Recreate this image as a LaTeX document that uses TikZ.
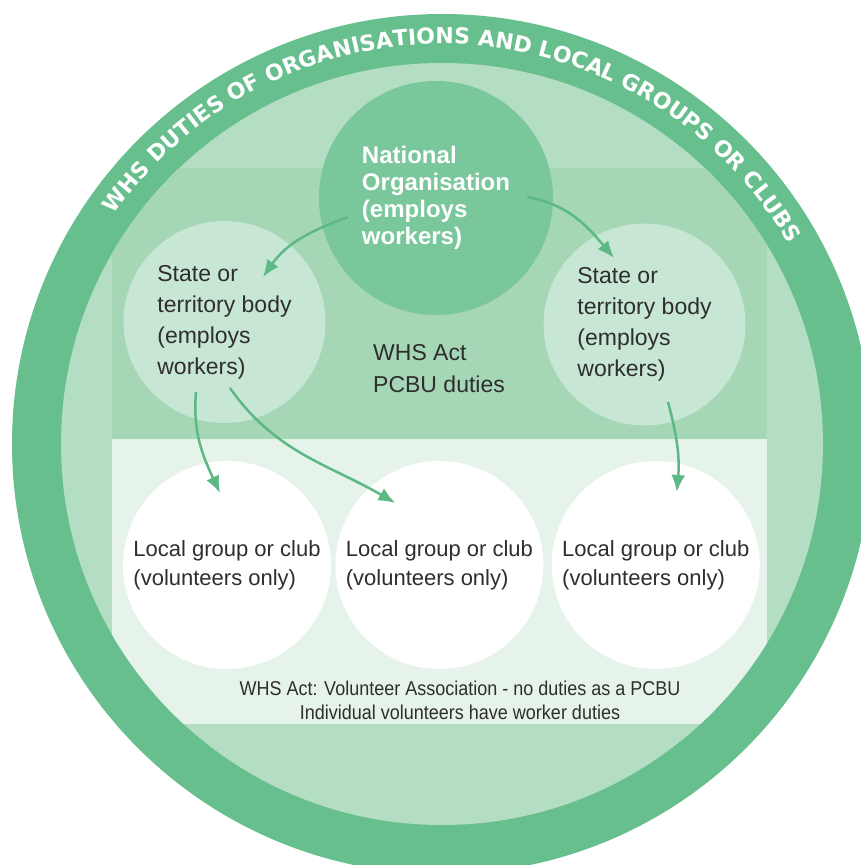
\documentclass[tikz,border=0pt]{standalone}
\usepackage{fontspec}
\setmainfont{Liberation Sans}
\newfontfamily\narrowfont[FakeStretch=0.9]{Liberation Sans}
\newfontfamily\ringfont{DejaVu Sans}
\usetikzlibrary{
	calc,               %计算
	positioning,        %定位
	arrows.meta,        %箭头
	decorations.text    %沿路径排文字
}
\definecolor{ringgreen}{HTML}{67BF8D}
\definecolor{innergreen}{HTML}{B4DEC4}
\definecolor{bandgreen}{HTML}{A5D6B6}
\definecolor{natgreen}{HTML}{7AC79C}
\definecolor{stategreen}{HTML}{C7E6D3}
\definecolor{palegreen}{HTML}{E6F3EA}
\definecolor{arrowgreen}{HTML}{5CB985}
\definecolor{textgray}{HTML}{2E2E2E}
\tikzset{
	every picture/.style={
		>={Latex[length=17pt,width=14pt]},
		node distance=4pt and 4pt
}}
\tikzset{
	national/.style={circle,
		fill=natgreen,
		minimum size=234pt,
		inner sep=0pt,
		align=left,
		text=white,
		font=\bfseries\fontsize{24pt}{27pt}\selectfont},
	statebody/.style={circle,
		fill=stategreen,
		minimum size=202pt,
		inner sep=0pt,
		align=left,
		text=textgray,
		font=\fontsize{23pt}{31pt}\selectfont},
	localclub/.style={circle,
		fill=white,
		minimum size=208pt,
		inner sep=0pt,
		align=left,
		text=textgray,
		font=\fontsize{22pt}{29pt}\selectfont},
	flow/.style={->,
		line width=2.5pt,
		draw=arrowgreen}
}
\begin{document}
\begin{tikzpicture}[x=1pt,y=1pt]
\useasboundingbox (0,0) rectangle (861,865);
\clip (0,0) rectangle (861,865);
\coordinate (ring) at (442,421);
\fill[ringgreen] (ring) circle (430);
\fill[innergreen] (ring) circle (381);
\begin{scope}
\clip (ring) circle (381);
\fill[bandgreen] (112,426) rectangle (767,697);
\fill[palegreen] (112,141) rectangle (767,426);
\end{scope}
\path[decorate,decoration={text along path,text align=center,text color=white,
	text={|\ringfont\bfseries\fontsize{22pt}{22pt}\selectfont|WHS DUTIES OF ORGANISATIONS AND LOCAL GROUPS OR CLUBS}}]
	($(ring)+(160:400)$) arc[start angle=160,end angle=15,radius=400];
\node[national] (nat) at (436,667) {National\\Organisation\\(employs\\workers)};
\node[statebody] (lstate) at (224.5,543) {State or\\territory body\\(employs\\workers)};
\node[statebody] (rstate) at (644.5,540.5) {State or\\territory body\\(employs\\workers)};
\node[localclub] (loc1) at (227,300) {Local group or club\\(volunteers only)};
\node[localclub,right=4pt of loc1] (loc2) {Local group or club\\(volunteers only)};
\node[localclub,right=8pt of loc2] (loc3) {Local group or club\\(volunteers only)};
\node[anchor=west,inner sep=0pt,align=left,text=textgray,font=\fontsize{23pt}{32pt}\selectfont] (pcbu) at (373,496.5) {WHS Act\\PCBU duties};
\node[inner sep=0pt,align=center,text=textgray,font=\narrowfont\fontsize{20pt}{24pt}\selectfont] (volnote) at (460,164.5) {WHS Act: Volunteer Association - no duties as a PCBU\\Individual volunteers have worker duties};
\draw[flow] ($(nat)+(-88,-19)$) to[out=200,in=55] ($(lstate)+(38.5,45)$);
\draw[flow] ($(nat)+(91,1)$) to[out=-10,in=130] ($(rstate)+(-30.5,66.5)$);
\draw[flow] ($(lstate)+(-28.5,-70)$) to[out=-95,in=115] ($(loc1)+(-7,72)$);
\draw[flow] ($(lstate)+(5.5,-66)$) to[out=-55,in=150] ($(loc2)+(-44,62)$);
\draw[flow] ($(rstate)+(23.5,-77.5)$) to[out=-75,in=85] ($(loc3)+(21,73)$);
\end{tikzpicture}
\end{document}
